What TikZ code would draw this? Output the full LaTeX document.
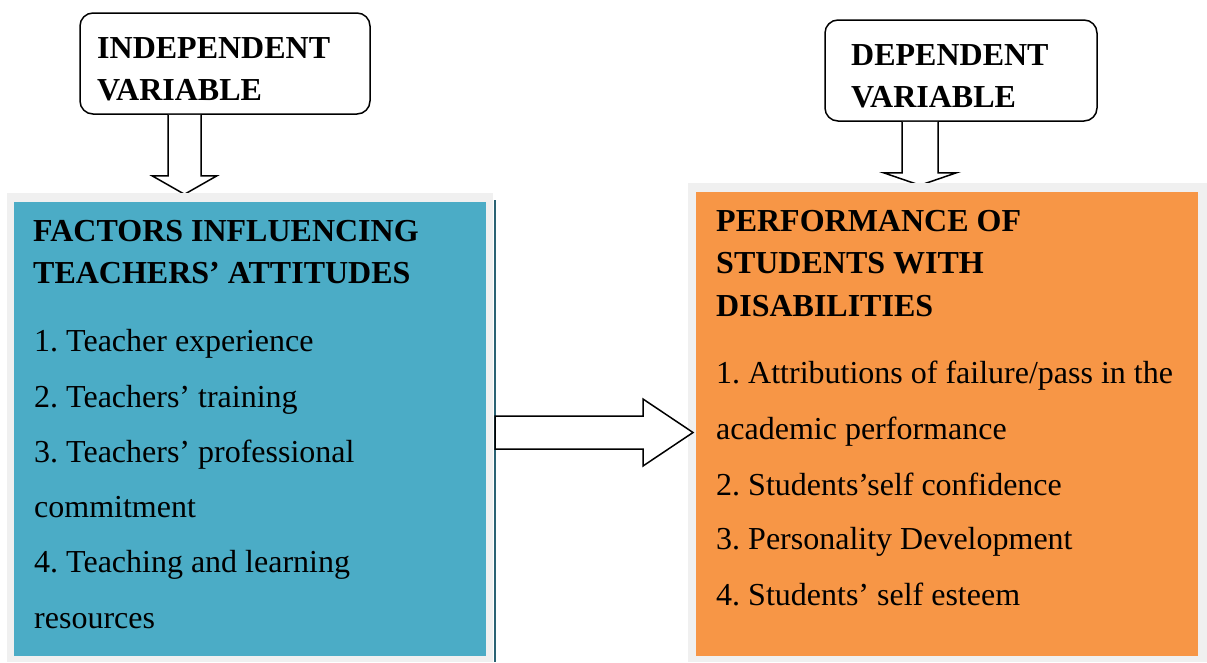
\documentclass[tikz,border=0pt]{standalone}
\usepackage{fontspec}
\setmainfont{Liberation Serif}
\usetikzlibrary{calc}
\definecolor{panelblue}{HTML}{4BACC6}
\definecolor{panelorange}{HTML}{F79646}
\definecolor{framegray}{HTML}{F0F0F0}
\definecolor{edgeteal}{HTML}{2A6273}
\frenchspacing
\begin{document}
\begin{tikzpicture}[x=1pt,y=-1pt,
  varbox/.style={draw=black, line width=1.5pt, rounded corners=13pt, fill=white, inner sep=0pt},
  panel/.style={inner sep=0pt, outer sep=0pt, anchor=north west},
  head/.style={anchor=base west, inner sep=0pt, font=\fontsize{32}{38}\selectfont\bfseries},
  item/.style={anchor=base west, inner sep=0pt, font=\fontsize{32}{38}\selectfont},
  blockarrow/.style={draw=black, line width=1.5pt, fill=white, line join=miter}]
\useasboundingbox[fill=white] (0,0) rectangle (1207,662);

% variable labels
\node[varbox, minimum width=290pt, minimum height=101pt] (indep) at (225,63.5) {};
\node[head] (indepA) at (97,58) {INDEPENDENT};
\node[head] (indepB) at (97,100) {VARIABLE};
\node[varbox, minimum width=272pt, minimum height=101pt] (dep) at (961,70.5) {};
\node[head] (depA) at (851,65) {DEPENDENT};
\node[head] (depB) at (851,107) {VARIABLE};

% down arrows from the labels
\path (indep.south) ++(-40.5,0) coordinate (a1);
\draw[blockarrow] (a1) ++(-16.5,0) -- ++(0,61) -- ++(-16,0) -- ++(32.5,18.5)
  -- ++(32.5,-18.5) -- ++(-16,0) -- ++(0,-61);
\path (dep.south) ++(-41,0) coordinate (a2);
\draw[blockarrow] (a2) ++(-18,0) -- ++(0,51) -- ++(-18.5,0) -- ++(36.5,12.5)
  -- ++(36.5,-12.5) -- ++(-18.5,0) -- ++(0,-51);

% left panel
\node[panel, fill=framegray, minimum width=486pt, minimum height=469pt] (leftframe) at (7,193) {};
\node[panel, fill=panelblue, minimum width=472pt, minimum height=454pt] (leftpanel) at (14,202) {};
\draw[edgeteal, line width=2.5pt] (495,200) -- (495,662);

% right panel
\node[panel, fill=framegray, minimum width=519pt, minimum height=479pt] (rightframe) at (688,183) {};
\node[panel, fill=panelorange, minimum width=502pt, minimum height=464pt] (rightpanel) at (696,192) {};

% arrow between the panels
\draw[blockarrow] (495,416) -- (643,416) -- (643,399) -- (693,432.5)
  -- (643,466) -- (643,449) -- (495,449) -- cycle;

% left panel text
\node[head] (lt1) at (33,241) {FACTORS INFLUENCING};
\node[head] (lt2) at (33,283) {TEACHERS’ ATTITUDES};
\node[item] (li1) at (34,351) {1. Teacher experience};
\node[item] (li2) at (34,407) {2. Teachers’ training};
\node[item] (li3) at (34,462) {3. Teachers’ professional};
\node[item] (li4) at (34,517) {commitment};
\node[item] (li5) at (34,572) {4. Teaching and learning};
\node[item] (li6) at (34,628) {resources};

% right panel text
\node[head] (rt1) at (716,231) {PERFORMANCE OF};
\node[head] (rt2) at (716,273) {STUDENTS WITH};
\node[head] (rt3) at (716,316) {DISABILITIES};
\node[item] (ri1) at (716,383) {1. Attributions of failure/pass in the};
\node[item] (ri2) at (716,439) {academic performance};
\node[item] (ri3) at (716,495) {2. Students’self confidence};
\node[item] (ri4) at (716,549) {3. Personality Development};
\node[item] (ri5) at (716,605) {4. Students’ self esteem};
\end{tikzpicture}
\end{document}
